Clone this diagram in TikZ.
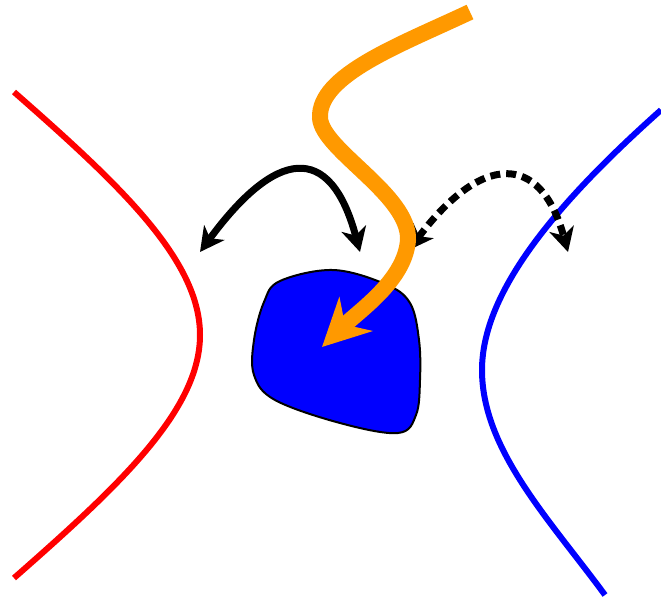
\documentclass[tikz,border=0pt]{standalone}
\usetikzlibrary{arrows.meta}
\definecolor{orng}{HTML}{FF9900}
\begin{document}
\begin{tikzpicture}[x=1pt,y=-1pt,
  curve/.style={line width=6pt},
  blk/.style={line width=7pt, {Stealth[length=24pt,width=25pt,inset=7pt]}-{Stealth[length=24pt,width=25pt,inset=7pt]}}]
\useasboundingbox (0,0) rectangle (661,600);
% red
\draw[curve, red] (14,92) .. controls (120,185) and (200,260) .. (200,335) .. controls (200,410) and (120,485) .. (14,578);
% blue
\draw[curve, blue] (661,110) .. controls (560,200) and (482,290) .. (482,370) .. controls (482,450) and (550,520) .. (605,595);
% blob
\draw[line width=2pt, fill=blue, line join=round] plot[smooth cycle, tension=0.6] coordinates {(280,281) (333,270) (385,284) (410,303) (419,340) (420,380) (416,415) (398,433) (340,423) (275,400) (254,375) (254,340) (264,302)};
% black solid
\draw[blk] (200,252) .. controls (275,150) and (330,140) .. (360,252);
% dashed
\draw[blk, dash pattern=on 10pt off 6pt] (409,250) .. controls (480,155) and (540,150) .. (568,252);
% orange
\draw[orng, line width=16pt, -{Stealth[length=47pt,width=47pt,inset=15pt]}] (470,12) .. controls (400,45) and (318,75) .. (320,118) .. controls (322,150) and (410,195) .. (408,240) .. controls (405,280) and (360,310) .. (322,347);
\end{tikzpicture}
\end{document}
